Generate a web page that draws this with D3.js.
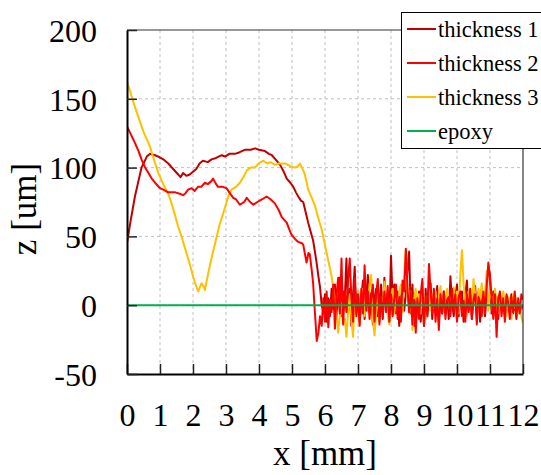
<!DOCTYPE html>
<html><head><meta charset="utf-8">
<script src="https://cdn.jsdelivr.net/npm/d3@7"></script>
<style>body{margin:0;background:#fff}svg{display:block}text{font-family:"Liberation Serif","Times New Roman",serif}</style>
</head><body><svg id="c" width="541" height="475"></svg>
<script>
const xTicks = [0,1,2,3,4,5,6,7,8,9,10,11,12];
const yTicks = [-50,0,50,100,150,200];
const seriesNames = ["thickness 1","thickness 2","thickness 3","epoxy"];
const seriesColors = ["#c00000","#ff0000","#ffc000","#00b050"];

// smooth parts [x mm, z um]
const t1Smooth = [[0,45],[0.1,60],[0.24,79],[0.44,100],[0.6,108],[0.7,110],[0.85,109],[0.95,108],[1.1,106],[1.25,103],[1.4,99],[1.55,95],[1.62,93],[1.7,96],[1.8,94],[1.9,95],[2.0,97],[2.1,99],[2.2,103],[2.3,105],[2.45,104],[2.56,106],[2.7,107],[2.87,109],[2.97,108],[3.1,110],[3.27,110],[3.4,111],[3.58,113],[3.75,113],[3.88,114],[4.0,113],[4.18,112],[4.3,110],[4.39,109],[4.5,106],[4.64,102],[4.75,97],[4.84,92],[4.95,89],[5.04,86],[5.12,82],[5.19,79],[5.27,76],[5.34,75],[5.42,67],[5.49,60],[5.57,53],[5.64,47],[5.7,38],[5.75,30],[5.8,21],[5.85,13],[5.9,0]];
const t2Smooth = [[0,130],[0.08,126],[0.24,118],[0.35,112],[0.44,106],[0.55,100],[0.65,96],[0.75,92],[0.85,89],[1.0,85],[1.1,84],[1.25,82],[1.46,82],[1.6,81],[1.7,80],[1.76,81],[1.85,84],[1.96,85],[2.05,83],[2.15,86],[2.25,86],[2.36,89],[2.45,88],[2.55,90],[2.61,92],[2.7,88],[2.76,86],[2.9,86],[3.02,85],[3.1,82],[3.22,78],[3.3,77],[3.42,73],[3.55,75],[3.63,78],[3.73,75],[3.83,73],[3.95,75],[4.1,77],[4.23,79],[4.35,77],[4.48,74],[4.6,69],[4.69,64],[4.84,60],[4.92,55],[4.99,51],[5.1,48],[5.19,46],[5.3,45],[5.34,44],[5.44,31],[5.5,38],[5.54,37],[5.6,25],[5.64,16],[5.68,0],[5.71,-11],[5.75,-26]];
const t3Smooth = [[0,162],[0.1,155],[0.2,147],[0.34,137],[0.5,126],[0.7,115],[0.8,107],[0.95,96],[1.1,88],[1.25,81],[1.35,74],[1.45,66],[1.55,57],[1.65,50],[1.8,38],[1.9,30],[2.0,21],[2.05,17],[2.11,13],[2.16,10],[2.21,13],[2.26,16],[2.31,14],[2.36,11],[2.41,17],[2.46,23],[2.55,33],[2.67,45],[2.8,58],[2.97,71],[3.08,80],[3.17,84],[3.3,86],[3.42,89],[3.55,94],[3.63,98],[3.75,100],[3.88,100],[3.95,102],[4.05,104],[4.13,105],[4.25,103],[4.35,104],[4.48,102],[4.6,103],[4.79,103],[4.95,101],[5.09,100],[5.18,101],[5.24,103],[5.32,99],[5.39,95],[5.49,84],[5.6,78],[5.7,72],[5.8,63],[5.9,55],[6.05,38],[6.2,21],[6.3,4]];

// noisy tails: values read every 0.05 mm from the given start
const noiseStep = 0.05;
const t1NoiseStart = 5.95;
const t1Noise = [-5,8,-12,5,-8,12,-3,15,-10,6, 20,-8,10,5,34,-5,12,-15,8,28, -6,10,-12,4,18,-10,6,22,-4,9, -14,5,12,-8,3,15,-10,20,-2,8, -12,36,4,15,-6,10,-15,6,12,-4, 8,25,39,-6,15,-15,5,-8,10,-12, 6,-15,12,-8,4,16,-10,8,-5,14, -12,5,-6,10,-3,8,-10,21,2,-8, 6,15,-8,4,10,-12,6,18,-4,8, -10,5,14,-6,10,-12,6,3,-8,12, 28,22,-6,10,-4,6,-10,8,-2,5, -8,6,2,-5,8,-6,4,-10,5,2, -3,0];
const t2NoiseStart = 5.80;
const t2Noise = [-20,-8,-15,5,-12,10,-16,4,-5,15, -17,8,20,-6,34,-14,10,-5,18,34, 5,-12,20,-8,8,-15,12,-6,29,-4, 10,-10,5,15,-12,8,19,-14,6,-8, 10,-5,14,-12,8,-8,5,15,-10,6, -12,18,10,41,12,-5,10,-14,4,-20, 5,-10,8,19,-15,6,-8,30,10,-6, 12,-12,5,-18,8,-6,10,-10,4,6, -8,12,-5,8,-12,6,10,-8,3,-12, 8,-5,12,-10,4,8,-14,6,2,-8, 10,-6,14,31,20,5,-10,8,-23,4, 10,-8,5,-12,8,2,-10,6,-5,10, -8,4,-6,8,4];
const t3NoiseStart = 6.35;
const t3Noise = [-5,-20,-8,2,-12,-10,-23,-5,8,-10, -23,5,-6,10,-14,4,12,-8,6,-4, 15,22,-10,-22,-6,8,-12,5,-4,17, 4,-8,-14,6,12,-6,8,-4,10,15, -5,22,41,7,-6,10,-18,4,12,-8, 8,-6,14,2,-10,5,12,-4,8,-2, 10,-8,6,14,-5,8,-2,12,4,-6, 8,13,2,10,-6,22,40,15,4,-8, 10,6,-4,19,8,-10,12,4,16,-6, 8,25,-4,10,6,-8,12,2,-6,8, -4,10,2,-8,6,4,-10,8,-2,5, -6,4,-8,-13];
const epoxy = [[0,0],[12,0]];

function build(smooth, start, vals){
  return smooth.concat(vals.map((v,i)=>[start+i*noiseStep, v]));
}
const series = [
  build(t1Smooth,t1NoiseStart,t1Noise),
  build(t2Smooth,t2NoiseStart,t2Noise),
  build(t3Smooth,t3NoiseStart,t3Noise),
  epoxy
];

const FONT = "Liberation Serif";
const svg = d3.select("#c");
const L=127,R=523,T=30,B=374;
const x = d3.scaleLinear().domain([0,12]).range([L,R]);
const y = d3.scaleLinear().domain([-50,200]).range([B,T]);

// grid
const g = svg.append("g");
g.selectAll(".vg").data(xTicks.slice(1,-1)).enter().append("line")
 .attr("x1",d=>x(d)).attr("x2",d=>x(d)).attr("y1",T).attr("y2",B)
 .attr("stroke","#c0c0c0").attr("stroke-width",1).attr("stroke-dasharray","3,3");
g.selectAll(".hg").data(yTicks.slice(1,-1)).enter().append("line")
 .attr("x1",L).attr("x2",R).attr("y1",d=>y(d)).attr("y2",d=>y(d))
 .attr("stroke","#c0c0c0").attr("stroke-width",1).attr("stroke-dasharray","3,3");

// lines
const line = d3.line().x(d=>x(d[0])).y(d=>y(d[1]));
svg.append("clipPath").attr("id","pc").append("rect").attr("x",L).attr("y",T).attr("width",R-L).attr("height",B-T);
[0,2,1,3].forEach(i=>{
  svg.append("path").datum(series[i]).attr("d",line).attr("fill","none")
   .attr("stroke",seriesColors[i]).attr("stroke-width",2).attr("stroke-linejoin","round")
   .attr("clip-path","url(#pc)");
});

// frame
svg.append("line").attr("x1",L).attr("x2",R).attr("y1",T).attr("y2",T).attr("stroke","#333").attr("stroke-width",1.2);
svg.append("line").attr("x1",R).attr("x2",R).attr("y1",T).attr("y2",B).attr("stroke","#333").attr("stroke-width",1.2);

// axes
const xAxis = d3.axisBottom(x).tickValues(xTicks).tickSizeInner(-10).tickSizeOuter(0).tickPadding(29).tickFormat(d=>String(d));
const xg = svg.append("g").attr("transform",`translate(0,${B})`).call(xAxis).attr("font-family",FONT);
xg.select(".domain").attr("stroke","#000").attr("stroke-width",2);
xg.selectAll(".tick line").attr("stroke","#222").attr("stroke-width",1.5);
xg.selectAll("text").attr("font-size",32).attr("fill","#000");

const yAxis = d3.axisLeft(y).tickValues(yTicks).tickSizeInner(-10).tickSizeOuter(0).tickPadding(30).tickFormat(d=>String(d));
const yg = svg.append("g").attr("transform",`translate(${L},0)`).call(yAxis).attr("font-family",FONT);
yg.select(".domain").attr("stroke","#000").attr("stroke-width",2);
yg.selectAll(".tick line").attr("stroke","#222").attr("stroke-width",1.5);
yg.selectAll("text").attr("font-size",32).attr("fill","#000").attr("dy","0.35em");

// titles
svg.append("text").attr("x",(L+R)/2).attr("y",465).attr("text-anchor","middle").attr("font-size",35).attr("font-family",FONT).text("x [mm]");
svg.append("text").attr("transform","translate(36,209) rotate(-90)").attr("text-anchor","middle").attr("font-size",35).attr("font-family",FONT).text("z [um]");

// legend
const lg = svg.append("g").attr("font-family",FONT);
lg.append("rect").attr("x",401.5).attr("y",12.5).attr("width",160).attr("height",136).attr("fill","#fff").attr("stroke","#000").attr("stroke-width",1);
seriesNames.forEach((n,i)=>{
  const yy = 29 + i*34;
  lg.append("line").attr("x1",407).attr("x2",436).attr("y1",yy).attr("y2",yy).attr("stroke",seriesColors[i]).attr("stroke-width",2);
  lg.append("text").attr("x",438).attr("y",yy+8).attr("font-size",22.5).text(n);
});
</script></body></html>
